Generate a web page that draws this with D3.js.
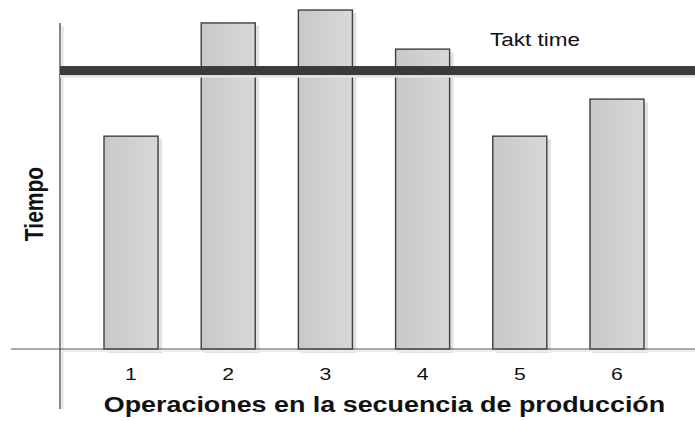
<!DOCTYPE html>
<html>
<head>
<meta charset="utf-8">
<script src="https://cdn.jsdelivr.net/npm/d3@7"></script>
<style>
  html, body { margin: 0; padding: 0; background: #fff; }
  text { font-family: "Liberation Sans", Arial, sans-serif; fill: #111; }
</style>
</head>
<body>
<div class="container"></div>
<script>
const WIDTH = 695;
const HEIGHT = 421;

// operations in production sequence and their cycle time (arbitrary units)
const operations = ['1', '2', '3', '4', '5', '6'];
const times = [62.6, 95.9, 99.7, 88.2, 62.6, 73.5];
const taktTime = 81.9;
const xTitle = 'Operaciones en la secuencia de producción';
const yTitle = 'Tiempo';
const taktLabel = 'Takt time';

const STRETCH = 1.25; // text in the picture is widened horizontally

var svg = d3.select('.container').append('svg')
  .attr('width', WIDTH)
  .attr('height', HEIGHT);

var x = d3.scaleBand()
  .domain(operations)
  .range([60, 688])
  .paddingInner(0.444)
  .paddingOuter(0.4527);

var y = d3.scaleLinear()
  .domain([0, 100])
  .range([349, 9]);

var grad = svg.append('defs').append('linearGradient')
  .attr('id', 'barFill')
  .attr('x1', '0%').attr('x2', '100%')
  .attr('y1', '0%').attr('y2', '0%');
grad.append('stop').attr('offset', '0%').attr('stop-color', '#c8c8c8');
grad.append('stop').attr('offset', '100%').attr('stop-color', '#d8d8d8');

// bar shadows
svg.selectAll('.shadow')
  .data(times)
  .enter().append('rect')
  .attr('class', 'shadow')
  .attr('x', function (d, i) { return x(operations[i]) + 3; })
  .attr('y', function (d) { return y(d) + 3; })
  .attr('width', x.bandwidth() + 1)
  .attr('height', function (d) { return y(0) - y(d) + 1; })
  .style('fill', '#e2e2e2');

// axis shadows
svg.append('line')
  .attr('x1', 62.5).attr('x2', 62.5)
  .attr('y1', 26).attr('y2', 409)
  .style('stroke', '#e2e2e2').style('stroke-width', 2);
svg.append('line')
  .attr('x1', 62).attr('x2', WIDTH)
  .attr('y1', y(0) + 2).attr('y2', y(0) + 2)
  .style('stroke', '#ececec').style('stroke-width', 2);

// bars
svg.selectAll('.bar')
  .data(times)
  .enter().append('rect')
  .attr('class', 'bar')
  .attr('x', function (d, i) { return x(operations[i]); })
  .attr('y', function (d) { return y(d); })
  .attr('width', x.bandwidth())
  .attr('height', function (d) { return y(0) - y(d); })
  .style('fill', 'url(#barFill)')
  .style('stroke', '#3f3f3f')
  .style('stroke-width', 1.4);

// axes lines
svg.append('line')
  .attr('x1', 11).attr('x2', WIDTH)
  .attr('y1', y(0)).attr('y2', y(0))
  .style('stroke', '#555').style('stroke-width', 1.2);
svg.append('line')
  .attr('x1', 60).attr('x2', 60)
  .attr('y1', 23).attr('y2', 409)
  .style('stroke', '#444').style('stroke-width', 1.3);

// takt time line
svg.append('rect')
  .attr('x', 60).attr('y', y(taktTime) + 4.5)
  .attr('width', WIDTH - 60).attr('height', 2.5)
  .style('fill', '#e4e4e4');
svg.append('rect')
  .attr('x', 60).attr('y', y(taktTime) - 4.5)
  .attr('width', WIDTH - 60).attr('height', 9)
  .style('fill', '#3a3a3a');

function label(px, py, txt, size, weight, rotate) {
  var g = svg.append('g')
    .attr('transform', 'translate(' + px + ',' + py + ') scale(' + STRETCH + ',1)' +
      (rotate ? ' rotate(' + rotate + ')' : ''));
  return g.append('text')
    .attr('text-anchor', rotate ? 'middle' : 'start')
    .style('font-size', size + 'px')
    .style('font-weight', weight)
    .text(txt);
}

// tick labels
operations.forEach(function (op) {
  label(x(op) + x.bandwidth() / 2, 379.5, op, 17, 'normal')
    .attr('text-anchor', 'middle');
});

label(384.5, 412, xTitle, 21.5, 'bold').attr('text-anchor', 'middle');
label(43, 204, yTitle, 21, 'bold', -90);
label(490, 45.5, taktLabel, 18, 'normal');
</script>
</body>
</html>
